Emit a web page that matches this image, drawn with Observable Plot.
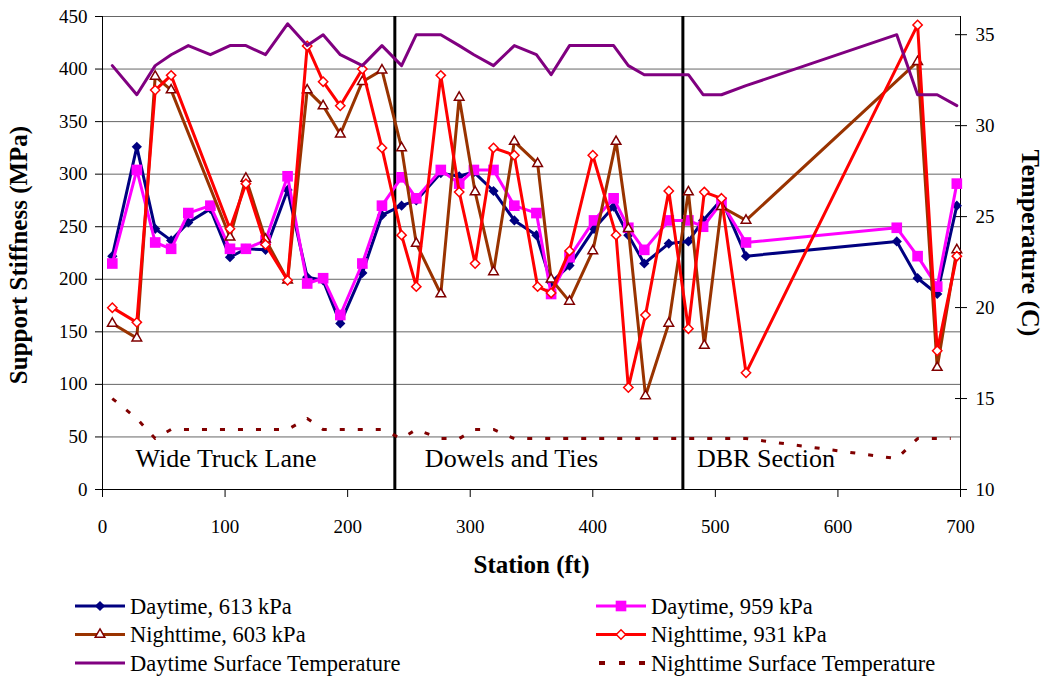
<!DOCTYPE html>
<html><head><meta charset="utf-8">
<script src="https://cdn.jsdelivr.net/npm/d3@7"></script>
<script src="https://cdn.jsdelivr.net/npm/@observablehq/plot@0.6"></script>
<style>
body{margin:0;background:#fff;font-family:"Liberation Serif","Times New Roman",serif;}
#chart svg, #legend svg{display:block;}
</style></head><body><div id="chart"></div><div id="legend"></div>
<script>
// ---- data ----
const dayStations = [8, 28, 43, 56, 70, 88, 104, 117, 133, 151, 167, 180, 194, 212, 228, 244, 256, 276, 291, 303, 319, 336, 354, 366, 381, 401, 417, 429, 442, 462, 478, 490, 505, 525, 648, 665, 681, 697];
const day613 = [222, 326, 248, 237, 254, 267, 221, 229, 228, 285, 202, 199, 158, 206, 261, 270, 275, 301, 298, 302, 284, 256, 242, 197, 213, 248, 269, 242, 215, 234, 236, 256, 276, 222, 236, 201, 186, 270];
const day959 = [215, 304, 235, 229, 263, 270, 229, 229, 237, 298, 196, 201, 166, 215, 270, 297, 277, 304, 291, 304, 304, 270, 263, 186, 221, 256, 277, 249, 228, 256, 256, 250, 273, 235, 249, 222, 193, 291];

const nightStations = [8, 28, 43, 56, 104, 117, 133, 151, 167, 180, 194, 212, 228, 244, 256, 276, 291, 304, 319, 336, 355, 366, 381, 400, 419, 429, 443, 462, 478, 491, 505, 525, 665, 681, 697];
const night603 = [158, 144, 393, 380, 240, 296, 238, 199, 380, 365, 338, 388, 399, 325, 234, 186, 373, 283, 207, 331, 310, 200, 179, 227, 331, 248, 89, 158, 283, 137, 269, 256, 407, 116, 228];
const night931 = [173, 159, 380, 394, 248, 291, 233, 199, 422, 388, 365, 400, 325, 242, 193, 394, 283, 215, 325, 318, 193, 187, 227, 318, 242, 97, 166, 284, 153, 283, 277, 111, 442, 132, 222];

const dayTempStations = dayStations;
const dayTemp = [33.3, 31.7, 33.3, 33.9, 34.4, 33.9, 34.4, 34.4, 33.9, 35.6, 34.4, 35.0, 33.9, 33.3, 34.4, 33.3, 35.0, 35.0, 34.4, 33.9, 33.3, 34.4, 33.9, 32.8, 34.4, 34.4, 34.4, 33.3, 32.8, 32.8, 32.8, 31.7, 31.7, 32.2, 35.0, 31.7, 31.7, 31.1];

const nightTempStations = [8, 28, 43, 56, 104, 117, 133, 151, 167, 180, 194, 212, 228, 244, 256, 276, 291, 304, 319, 336, 355, 366, 381, 400, 419, 429, 443, 462, 478, 491, 505, 525, 648, 665, 681, 692];
const nightTemp = [15.0, 13.9, 12.8, 13.3, 13.3, 13.3, 13.3, 13.3, 13.9, 13.3, 13.3, 13.3, 13.3, 12.8, 13.3, 12.8, 12.8, 13.3, 13.3, 12.8, 12.8, 12.8, 12.8, 12.8, 12.8, 12.8, 12.8, 12.8, 12.8, 12.8, 12.8, 12.8, 11.7, 12.8, 12.8, 12.8];

const sectionBounds = [238.5, 473.5];
const sectionLabels = ["Wide Truck Lane", "Dowels and Ties", "DBR Section"];
const sectionLabelStations = [27, 263, 485];

const xTicks = [0, 100, 200, 300, 400, 500, 600, 700];
const yTicks = [0, 50, 100, 150, 200, 250, 300, 350, 400, 450];
const tempTicks = [10, 15, 20, 25, 30, 35];
const tempDomain = [10, 36];
const yDomain = [0, 450];

const seriesNames = ["Daytime, 613 kPa", "Daytime, 959 kPa", "Nighttime, 603 kPa", "Nighttime, 931 kPa", "Daytime Surface Temperature", "Nighttime Surface Temperature"];

// ---- build ----
const FONT = '"Liberation Serif","Times New Roman",serif';
const toLeft = t => (t - tempDomain[0]) / (tempDomain[1] - tempDomain[0]) * (yDomain[1] - yDomain[0]) + yDomain[0];
const toTemp = v => (v - yDomain[0]) / (yDomain[1] - yDomain[0]) * (tempDomain[1] - tempDomain[0]) + tempDomain[0];
const rows = (st, vals) => st.map((s, i) => ({station: s, value: vals[i]}));

const d613 = rows(dayStations, day613);
const d959 = rows(dayStations, day959);
const n603 = rows(nightStations, night603);
const n931 = rows(nightStations, night931);
const dT = rows(dayTempStations, dayTemp.map(toLeft));
const nT = rows(nightTempStations, nightTemp.map(toLeft));

const C = {navy: "#000080", pink: "#FF00FF", brown: "#993300", maroon: "#800000", red: "#FF0000", purple: "#800080"};

const chart = Plot.plot({
  width: 1048, height: 590,
  marginLeft: 102, marginRight: 88, marginTop: 16, marginBottom: 101,
  style: {fontFamily: FONT, fontSize: "19px", color: "#000", background: "#fff"},
  x: {domain: [0, 700]},
  y: {domain: yDomain},
  marks: [
    Plot.ruleY(yTicks.slice(1), {stroke: "#666", strokeWidth: 1}),
    Plot.ruleY([0], {stroke: "#000"}),
    Plot.ruleX([0, 700], {stroke: "#000"}),
    Plot.ruleX(sectionBounds, {stroke: "#000", strokeWidth: 3}),
    Plot.axisX({ticks: xTicks, tickSize: 8, tickPadding: 22, label: null, fontSize: 19}),
    Plot.axisY({anchor: "left", ticks: yTicks, tickSize: 7, tickPadding: 8, label: null, fontSize: 19}),
    Plot.axisY({anchor: "right", ticks: tempTicks.map(toLeft), tickFormat: d => String(Math.round(toTemp(d))), tickSize: 12, dx: -6, tickPadding: 9, label: null, fontSize: 19}),
    Plot.line(d613, {x: "station", y: "value", stroke: C.navy, strokeWidth: 3}),
    Plot.dot(d613, {x: "station", y: "value", symbol: "diamond2", fill: C.navy, r: 4.6}),
    Plot.line(d959, {x: "station", y: "value", stroke: C.pink, strokeWidth: 3}),
    Plot.dot(d959, {x: "station", y: "value", symbol: "square", fill: C.pink, r: 6}),
    Plot.line(n603, {x: "station", y: "value", stroke: C.brown, strokeWidth: 3}),
    Plot.dot(n603, {x: "station", y: "value", symbol: "triangle2", fill: "#fff", stroke: C.maroon, strokeWidth: 1.5, r: 4.6}),
    Plot.line(n931, {x: "station", y: "value", stroke: C.red, strokeWidth: 3}),
    Plot.dot(n931, {x: "station", y: "value", symbol: "diamond2", fill: "#fff", stroke: C.red, strokeWidth: 1.5, r: 4.2}),
    Plot.line(dT, {x: "station", y: "value", stroke: C.purple, strokeWidth: 3}),
    Plot.line(nT, {x: "station", y: "value", stroke: C.maroon, strokeWidth: 3, strokeDasharray: "5,13", strokeLinecap: "butt"}),
    Plot.text(sectionLabels, {x: (d, i) => sectionLabelStations[i], frameAnchor: "bottom", dy: -23, textAnchor: "start", fontSize: 26}),
    Plot.text(["Station (ft)"], {frameAnchor: "bottom", dy: 83, textAnchor: "middle", fontSize: 25, fontWeight: "bold"}),
    Plot.text(["Support Stiffness (MPa)"], {frameAnchor: "left", dx: -84, dy: 2, textAnchor: "middle", rotate: -90, fontSize: 25, fontWeight: "bold"}),
    Plot.text(["Temperature (C)"], {frameAnchor: "right", dx: 70, dy: -10, textAnchor: "middle", rotate: 90, fontSize: 26, fontWeight: "bold"})
  ]
});
document.getElementById("chart").appendChild(chart);

// ---- legend ----
const legendStyle = [
  {color: C.navy, symbol: d3.symbolDiamond2, size: 66, fill: C.navy, stroke: "none"},
  {color: C.pink, symbol: d3.symbolSquare, size: 113, fill: C.pink, stroke: "none"},
  {color: C.brown, symbol: d3.symbolTriangle2, size: 66, fill: "#fff", stroke: C.maroon},
  {color: C.red, symbol: d3.symbolDiamond2, size: 56, fill: "#fff", stroke: C.red},
  {color: C.purple},
  {color: C.maroon, dash: "6,14"}
];
const lg = d3.select("#legend").append("svg").attr("width", 1048).attr("height", 91)
  .style("font-family", FONT).style("font-size", "22.5px");
seriesNames.forEach((name, i) => {
  const s = legendStyle[i];
  const x0 = i % 2 === 0 ? 75 : 596;
  const y0 = 16 + Math.floor(i / 2) * 28.5;
  const g = lg.append("g").attr("transform", `translate(${x0},${y0})`);
  g.append("line").attr("x1", s.dash ? 3 : 0).attr("x2", s.dash ? 57 : 50).attr("y1", 0).attr("y2", 0)
    .attr("stroke", s.color).attr("stroke-width", s.dash ? 4 : 3).attr("stroke-dasharray", s.dash || null);
  if (s.symbol) g.append("path").attr("transform", "translate(25,0)").attr("d", d3.symbol(s.symbol, s.size)())
    .attr("fill", s.fill).attr("stroke", s.stroke).attr("stroke-width", 1.5);
  g.append("text").attr("x", 55).attr("y", 0).attr("dy", "0.35em").text(name);
});
</script>
</body></html>
